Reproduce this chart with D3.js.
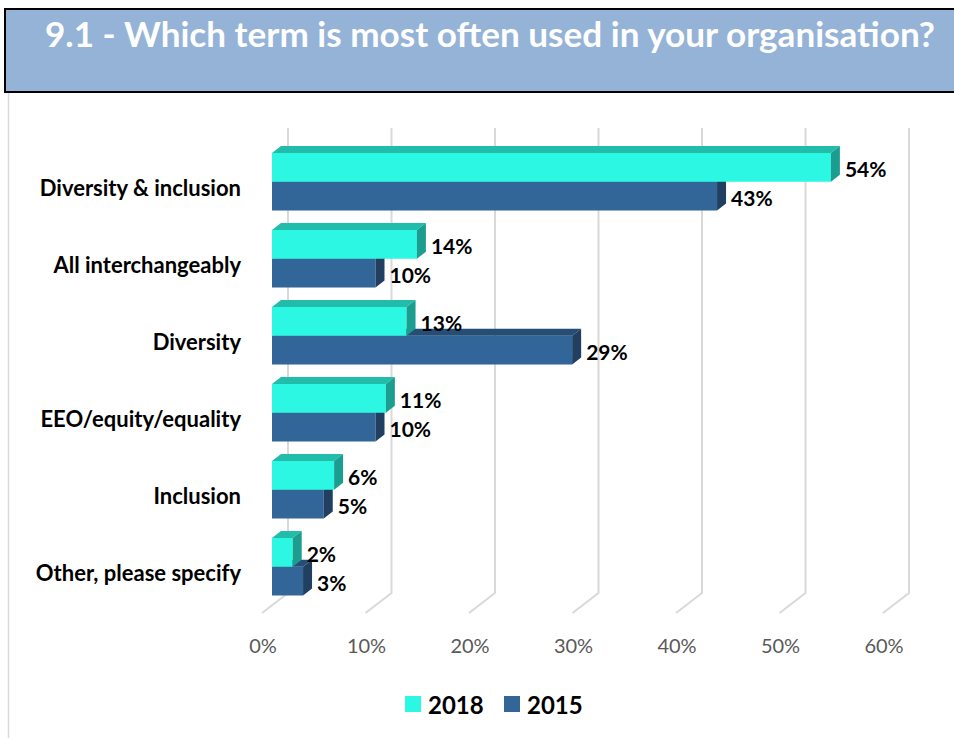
<!DOCTYPE html>
<html>
<head>
<meta charset="utf-8">
<script src="https://cdn.jsdelivr.net/npm/d3@7"></script>
<style>
  html, body { margin: 0; padding: 0; background: #fff; }
  svg { display: block; font-family: Lato, "Open Sans", sans-serif; }
</style>
</head>
<body>
<svg id="chart" width="954" height="738"></svg>
<script>
// Survey question 9.1 — share of organisations by most-used term
const categories = ["Diversity & inclusion", "All interchangeably", "Diversity",
                    "EEO/equity/equality", "Inclusion", "Other, please specify"];
const series = ["2018", "2015"];
const values2018 = [54, 14, 13, 11, 6, 2];
const values2015 = [43, 10, 29, 10, 5, 3];
const tickValues = [0, 10, 20, 30, 40, 50, 60];
const tickLabels = ["0%", "10%", "20%", "30%", "40%", "50%", "60%"];
const title = "9.1 - Which term is most often used in your organisation?";

const colors = {
  "2018": { front: "#2bf7e2", top: "#22bcab", side: "#1b9e8f" },
  "2015": { front: "#326699", top: "#264d75", side: "#213f60" }
};

const svg = d3.select("#chart");

// Title banner
svg.append("rect")
  .attr("x", 5).attr("y", 9).attr("width", 960).attr("height", 83)
  .attr("fill", "#95b3d7").attr("stroke", "#000").attr("stroke-width", 2);
svg.append("text")
  .attr("x", 45).attr("y", 47)
  .attr("fill", "#fff").attr("font-weight", "bold").attr("font-size", 34)
  .attr("textLength", 890).attr("lengthAdjust", "spacingAndGlyphs")
  .text(title);

// Panel edge
svg.append("line")
  .attr("x1", 8.5).attr("x2", 8.5).attr("y1", 93).attr("y2", 738)
  .attr("stroke", "#d9d9d9").attr("stroke-width", 1.5);

// Scales
const x = d3.scaleLinear().domain([0, 60]).range([272, 893]);
const y = d3.scaleBand().domain(categories).range([153, 595.5])
  .paddingInner(0.253).paddingOuter(0);
const ySeries = d3.scaleBand().domain(series).range([0, y.bandwidth()]);

// 3D geometry
const floor = { back: 16, front: -10, top: 128, backY: 593, frontY: 613 };
const depth = { dx: 9, dy: 7 };

// Back-wall gridlines with floor edges
const grid = svg.append("g").attr("stroke", "#d9d9d9").attr("stroke-width", 2).attr("fill", "none");
grid.selectAll("path").data(tickValues).join("path")
  .attr("d", v => {
    const xb = x(v) + floor.back, xf = x(v) + floor.front;
    return `M${xb},${floor.top}V${floor.backY}L${xf},${floor.frontY}`;
  });

// Axis tick labels along the front edge of the floor
svg.append("g").selectAll("text").data(tickValues).join("text")
  .attr("x", v => x(v) + floor.front + 1)
  .attr("y", 645)
  .attr("text-anchor", "middle").attr("dominant-baseline", "central")
  .attr("font-size", 20).attr("fill", "#595959")
  .text((v, i) => tickLabels[i]);

// Bars: one record per category/series
const rows = [];
categories.forEach((c, i) => {
  rows.push({ cat: c, s: "2015", v: values2015[i] });
  rows.push({ cat: c, s: "2018", v: values2018[i] });
});

const bars = svg.append("g");
rows.forEach(d => {
  const x0 = x(0), x1 = x(d.v);
  const y0 = y(d.cat) + ySeries(d.s), h = ySeries.bandwidth();
  const c = colors[d.s];
  const g = bars.append("g");
  g.append("rect").attr("x", x0).attr("y", y0).attr("width", x1 - x0).attr("height", h)
    .attr("fill", c.front);
  g.append("path")
    .attr("d", `M${x0},${y0}L${x0 + depth.dx},${y0 - depth.dy}L${x1 + depth.dx},${y0 - depth.dy}L${x1},${y0}Z`)
    .attr("fill", c.top);
  g.append("path")
    .attr("d", `M${x1},${y0}L${x1 + depth.dx},${y0 - depth.dy}L${x1 + depth.dx},${y0 + h - depth.dy}L${x1},${y0 + h}Z`)
    .attr("fill", c.side);
});

// Value labels
svg.append("g").selectAll("text").data(rows).join("text")
  .attr("x", d => x(d.v) + depth.dx + 5)
  .attr("y", d => y(d.cat) + ySeries(d.s) + ySeries.bandwidth() / 2 + 1)
  .attr("dominant-baseline", "central")
  .attr("font-size", 21).attr("font-weight", "bold").attr("fill", "#000")
  .text(d => d.v + "%");

// Category labels
svg.append("g").selectAll("text").data(categories).join("text")
  .attr("x", 241)
  .attr("y", c => y(c) + y.bandwidth() / 2 + 6)
  .attr("text-anchor", "end").attr("dominant-baseline", "central")
  .attr("font-size", 22).attr("font-weight", "bold").attr("fill", "#000")
  .text(c => c);

// Legend
const legend = svg.append("g");
const legendItems = [{ s: "2018", x: 405 }, { s: "2015", x: 504 }];
legendItems.forEach(it => {
  legend.append("rect").attr("x", it.x).attr("y", 696).attr("width", 16).attr("height", 16)
    .attr("fill", colors[it.s].front);
  legend.append("text").attr("x", it.x + 23).attr("y", 704)
    .attr("dominant-baseline", "central")
    .attr("font-size", 24).attr("font-weight", "bold").attr("fill", "#000")
    .text(it.s);
});
</script>
</body>
</html>
